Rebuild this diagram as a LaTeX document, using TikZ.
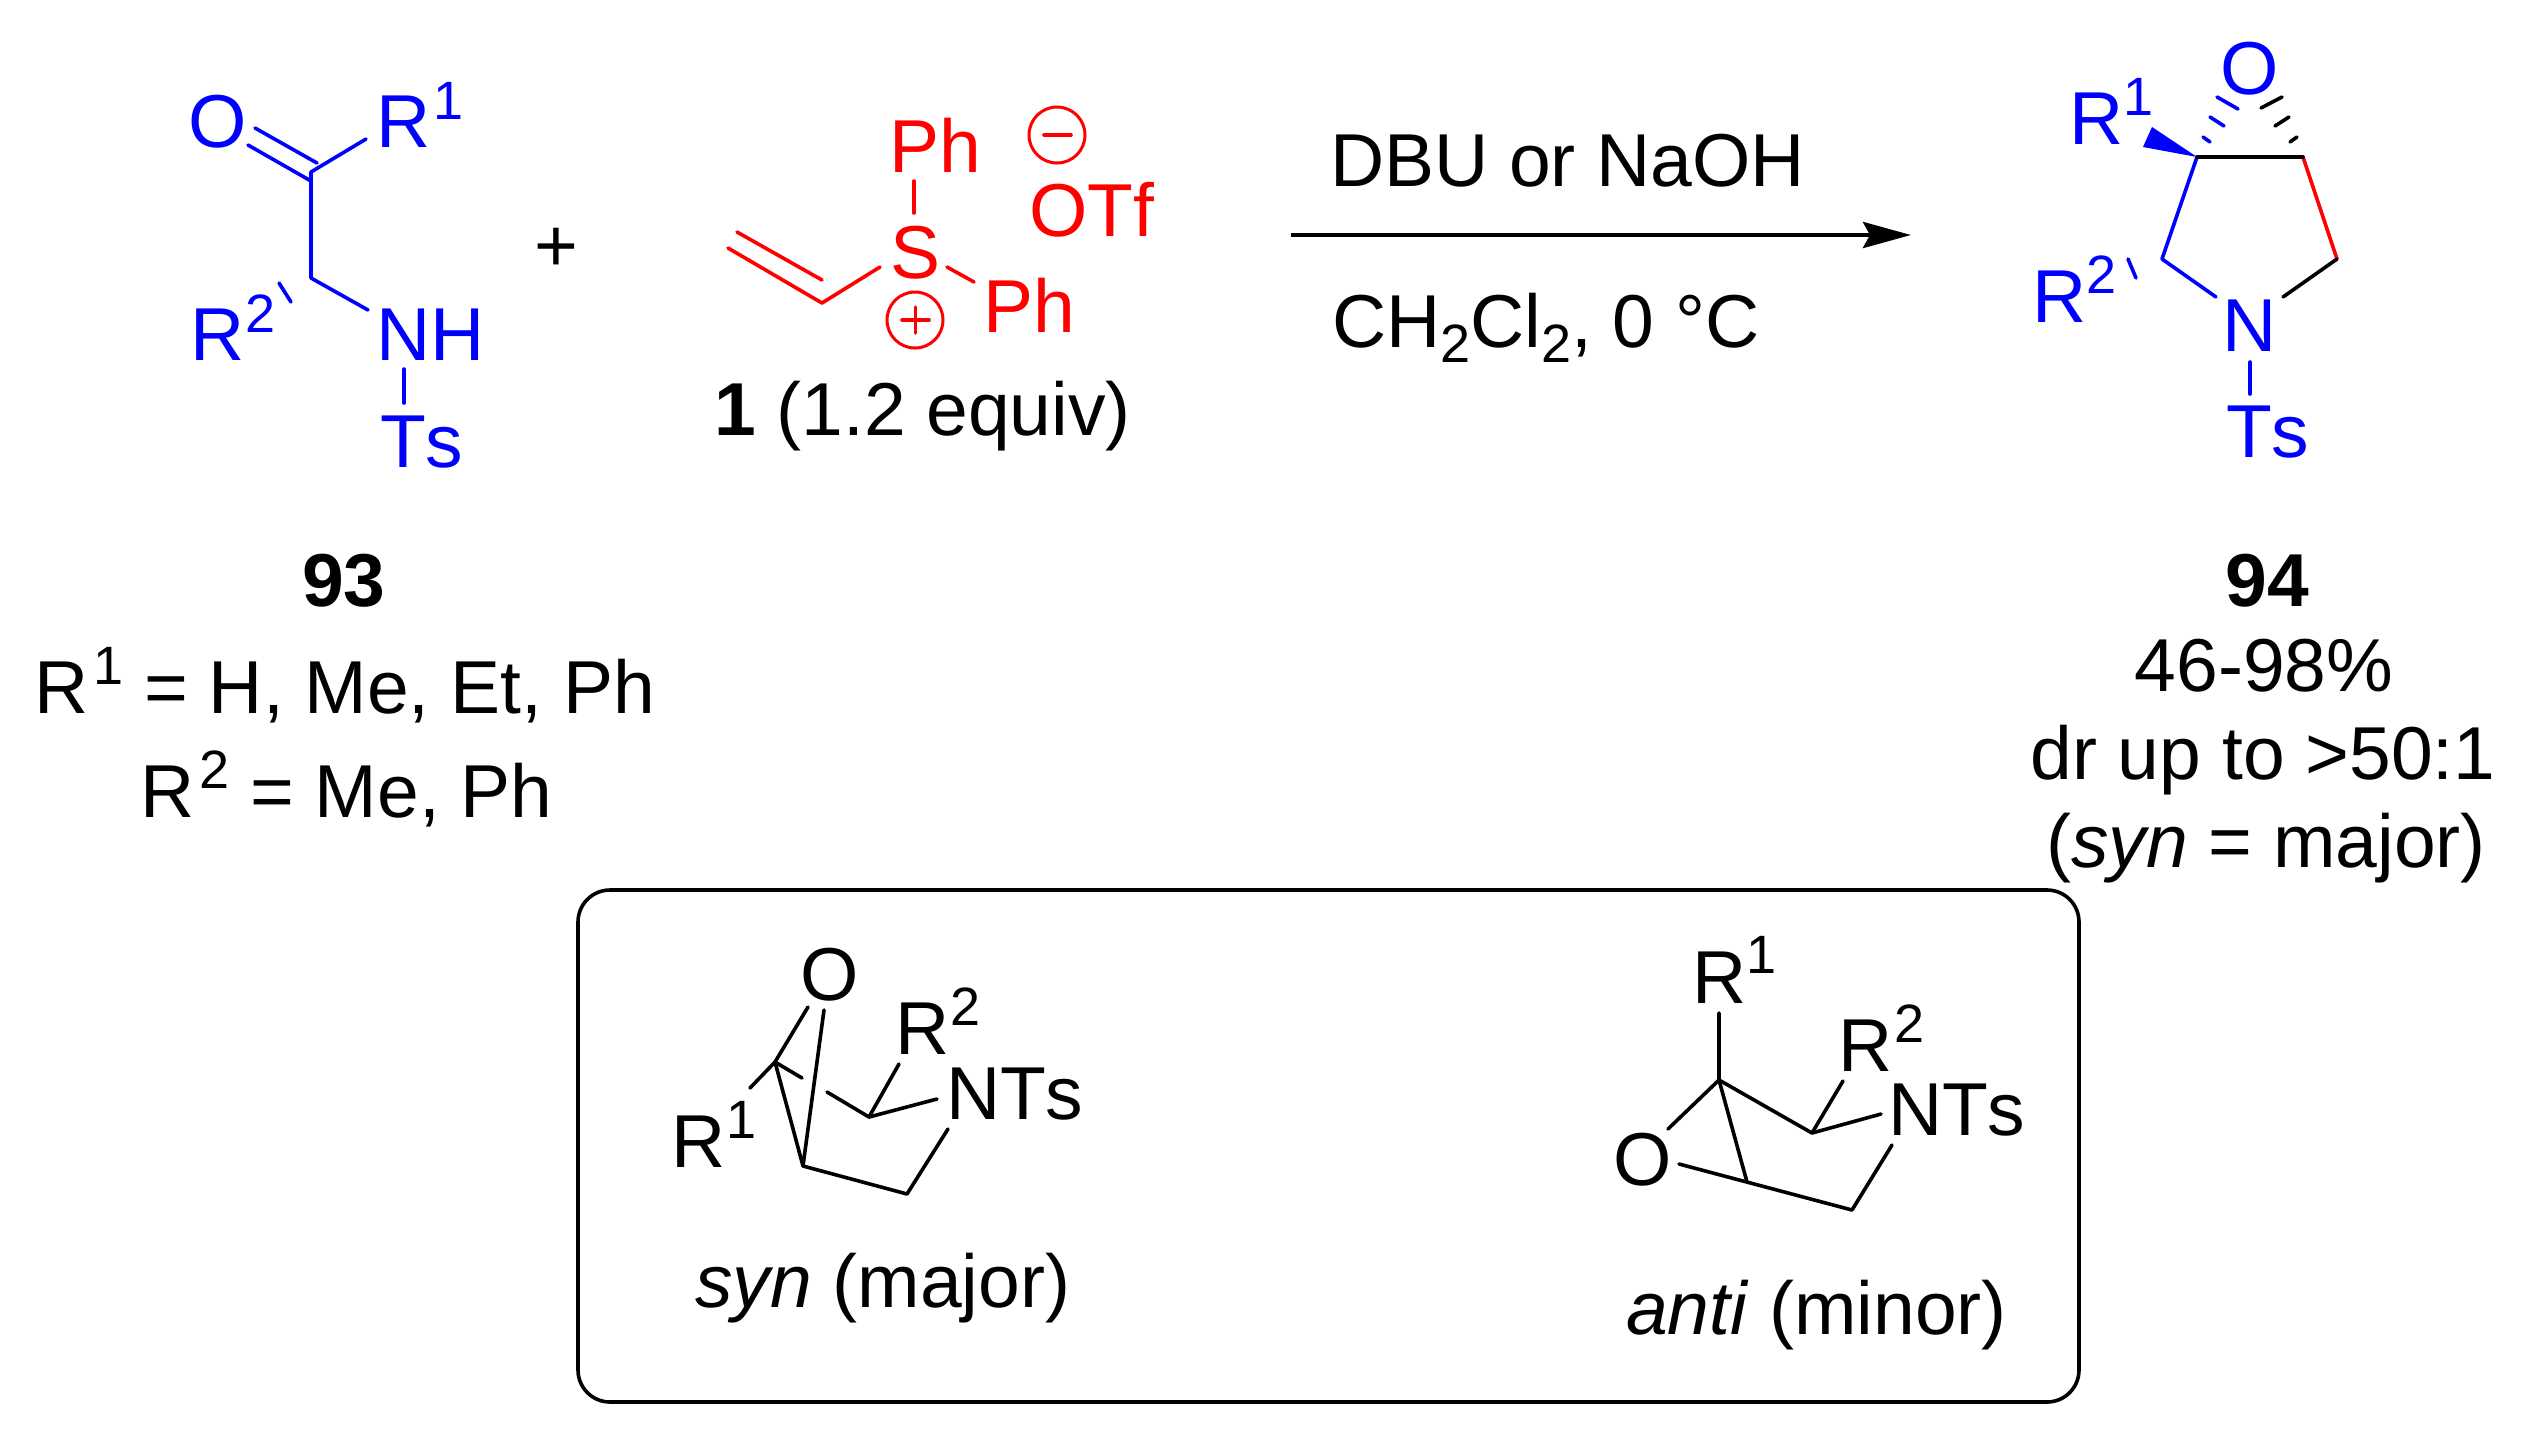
\documentclass[tikz,border=0pt]{standalone}
\usepackage{fontspec}
\usetikzlibrary{arrows.meta}
\setmainfont[Kerning=Off]{Liberation Sans}
\definecolor{molblue}{RGB}{0,0,255}
\definecolor{molred}{RGB}{255,0,0}
\newcommand{\supr}[1]{\kern.07em\raisebox{.38em}{\fontsize{27}{30}\selectfont #1}}
\newcommand{\subr}[1]{\raisebox{-.2em}{\fontsize{27}{30}\selectfont #1}}
\tikzset{
  x=0.5pt,y=-0.5pt,
  txt/.style={inner sep=0pt,outer sep=0pt,anchor=base west,font=\fontsize{37.5}{44}\selectfont},
  cen/.style={inner sep=0pt,outer sep=0pt,anchor=base,font=\fontsize{37.5}{44}\selectfont},
  sup/.style={inner sep=0pt,outer sep=0pt,anchor=base west,font=\fontsize{27}{30}\selectfont},
  bond/.style={line width=1.8pt,line cap=round,line join=round},
  blbond/.style={bond,draw=molblue},
  rdbond/.style={bond,draw=molred},
  kbond/.style={bond,draw=black},
  charge/.style={circle,draw=molred,line width=1.5pt,minimum size=28pt,inner sep=0pt},
}
\begin{document}
\begin{tikzpicture}
\useasboundingbox (0,0) rectangle (2524,1448);
% ---- compound 93
\node[txt,text=molblue] (o93) at (188,147) {O};
\node[txt,text=molblue] (r1a) at (376,147) {R};
\node[sup,text=molblue] (r1as) at (433,119) {1};
\node[txt,text=molblue] (r2a) at (190,360) {R};
\node[sup,text=molblue] (r2as) at (245,332) {2};
\node[txt,text=molblue] (nh93) at (376,360) {NH};
\node[txt,text=molblue] (ts93) at (380,467) {Ts};
\coordinate (d1a) at (255,128); \coordinate (d1b) at (317,163);
\coordinate (d2a) at (248,145); \coordinate (d2b) at (311,181);
\coordinate (c1) at (311,172); \coordinate (c2) at (311,278);
\coordinate (r1e) at (366,139); \coordinate (ne) at (368,310);
\coordinate (h1) at (279,283); \coordinate (h2) at (291,302);
\coordinate (nts1) at (404,369); \coordinate (nts2) at (404,403);
\draw[blbond] (d1a) -- (d1b);
\draw[blbond] (d2a) -- (d2b);
\draw[blbond] (r1e) -- (c1) -- (c2) -- (ne);
\draw[blbond] (h1) -- (h2);
\draw[blbond] (nts1) -- (nts2);
\node[txt] (plus) at (534,271) {+};
% ---- reagent 1
\node[txt,text=molred] (s1) at (890,278) {S};
\node[txt,text=molred] (ph1) at (889,172) {Ph};
\node[txt,text=molred] (ph2) at (983,332) {Ph};
\node[txt,text=molred] (otf) at (1029,236) {OTf};
\node[charge] (minus) at (1057,135) {};
\node[charge] (pluscirc) at (915,320) {};
\coordinate (mi1) at (1044,135); \coordinate (mi2) at (1071,135);
\coordinate (pl1) at (902,320); \coordinate (pl2) at (929,320);
\coordinate (pl3) at (915.5,307); \coordinate (pl4) at (915.5,333);
\draw[rdbond] (mi1) -- (mi2);
\draw[rdbond] (pl1) -- (pl2);
\draw[rdbond] (pl3) -- (pl4);
\coordinate (v1a) at (737,232); \coordinate (v1b) at (822,280);
\coordinate (v2a) at (728,248); \coordinate (v2b) at (822,303);
\coordinate (v3) at (880,267);
\coordinate (sp1) at (914,181); \coordinate (sp2) at (914,213);
\coordinate (sq1) at (947,267); \coordinate (sq2) at (974,282);
\draw[rdbond] (v1a) -- (v1b);
\draw[rdbond] (v2a) -- (v2b) -- (v3);
\draw[rdbond] (sp1) -- (sp2);
\draw[rdbond] (sq1) -- (sq2);
\node[txt] (eq) at (714,435) {\textbf{1} (1.2 equiv)};
% ---- arrow
\coordinate (ar1) at (1291,235); \coordinate (ar2) at (1911,235);
\draw[line width=2.2pt,-{Stealth[length=24pt,width=13pt,inset=3.5pt]}] (ar1) -- (ar2);
\node[txt] (cond1) at (1330,186) {DBU or NaOH};
\node[txt] (cond2) at (1332,347) {CH\subr{2}Cl\subr{2}, 0 °C};
% ---- compound 94
\node[txt,text=molblue] (o94) at (2220,94) {O};
\node[txt,text=molblue] (r1b) at (2069,144) {R};
\node[sup,text=molblue] (r1bs) at (2123,115) {1};
\node[txt,text=molblue] (r2b) at (2032,322) {R};
\node[sup,text=molblue] (r2bs) at (2086,293) {2};
\node[txt,text=molblue] (n94) at (2222,351) {N};
\node[txt,text=molblue] (ts94) at (2226,457) {Ts};
\coordinate (ra) at (2197,157); \coordinate (rb) at (2303,157);
\coordinate (rc) at (2337,259); \coordinate (rd) at (2162,259);
\coordinate (re) at (2216,297); \coordinate (rf) at (2283,297);
\coordinate (wa) at (2152,127); \coordinate (wb) at (2143,147);
\coordinate (hr1) at (2128,259); \coordinate (hr2) at (2136,278);
\coordinate (tn1) at (2250,362); \coordinate (tn2) at (2250,394);
\fill[molblue] (ra) -- (wa) -- (wb) -- cycle;
\draw[blbond] (ra) -- (rd) -- (re);
\draw[rdbond] (rb) -- (rc);
\draw[kbond] (rc) -- (rf);
\draw[kbond] (ra) -- (rb);
\draw[blbond] (hr1) -- (hr2);
\draw[blbond] (tn1) -- (tn2);
\coordinate (ba1) at (2203,137); \coordinate (ba2) at (2210,142);
\coordinate (ba3) at (2210,117); \coordinate (ba4) at (2224,126);
\coordinate (ba5) at (2217,97);  \coordinate (ba6) at (2238,109);
\coordinate (ka1) at (2290,142); \coordinate (ka2) at (2297,137);
\coordinate (ka3) at (2275,126); \coordinate (ka4) at (2289,117);
\coordinate (ka5) at (2261,108); \coordinate (ka6) at (2282,97);
\draw[blbond] (ba1) -- (ba2);
\draw[blbond] (ba3) -- (ba4);
\draw[blbond] (ba5) -- (ba6);
\draw[kbond] (ka1) -- (ka2);
\draw[kbond] (ka3) -- (ka4);
\draw[kbond] (ka5) -- (ka6);
% ---- captions
\node[cen] (n93) at (344,606) {\textbf{93}};
\node[txt] (def1) at (34,713) {R\supr{1} = H, Me, Et, Ph};
\node[txt] (def2) at (140,817) {R\supr{2} = Me, Ph};
\node[cen] (n94l) at (2267,606) {\textbf{94}};
\node[cen] (yld) at (2264,691) {46-98\%};
\node[cen] (dr) at (2263,779) {dr up to >50:1};
\node[cen] (syn) at (2266,867) {(\textit{syn} = major)};
% ---- box
\draw[line width=1.8pt,rounded corners=16pt] (578,890) rectangle (2079,1402);
% ---- syn
\node[txt] (os) at (800,1000) {O};
\node[txt] (r1s) at (671,1167) {R};
\node[sup] (r1ss) at (726,1138) {1};
\node[txt] (r2s) at (895,1054) {R};
\node[sup] (r2ss) at (950,1025) {2};
\node[txt] (nts) at (946,1119) {NTs};
\coordinate (sa) at (775,1062); \coordinate (so1) at (808,1007);
\coordinate (sr1) at (750,1088); \coordinate (sg1) at (802,1078);
\coordinate (sb) at (803,1166); \coordinate (so2) at (824,1010);
\coordinate (sc) at (907,1194); \coordinate (sn1) at (948,1129);
\coordinate (sd) at (869,1117); \coordinate (sg2) at (827,1092);
\coordinate (sr2) at (899,1064); \coordinate (sn2) at (937,1099);
\draw[kbond] (so1) -- (sa) -- (sr1);
\draw[kbond] (sg1) -- (sa) -- (sb) -- (so2);
\draw[kbond] (sb) -- (sc) -- (sn1);
\draw[kbond] (sg2) -- (sd) -- (sr2);
\draw[kbond] (sd) -- (sn2);
\node[txt] (synl) at (695,1307) {\textit{syn} (major)};
% ---- anti
\node[txt] (oa) at (1613,1185) {O};
\node[txt] (r1t) at (1692,1003) {R};
\node[sup] (r1ts) at (1746,973) {1};
\node[txt] (r2t) at (1838,1071) {R};
\node[sup] (r2ts) at (1894,1042) {2};
\node[txt] (nta) at (1888,1135) {NTs};
\coordinate (ta) at (1719,1080); \coordinate (tr1) at (1719,1013);
\coordinate (to1) at (1668,1129); \coordinate (tb) at (1747,1182);
\coordinate (td) at (1812,1133); \coordinate (tr2) at (1843,1081);
\coordinate (tn3) at (1881,1114); \coordinate (tc) at (1852,1210);
\coordinate (tn4) at (1892,1145); \coordinate (to2) at (1679,1164);
\draw[kbond] (tr1) -- (ta) -- (to1);
\draw[kbond] (ta) -- (tb);
\draw[kbond] (ta) -- (td) -- (tr2);
\draw[kbond] (td) -- (tn3);
\draw[kbond] (to2) -- (tc) -- (tn4);
\node[txt] (antil) at (1626,1334) {\textit{anti} (minor)};
\end{tikzpicture}
\end{document}
